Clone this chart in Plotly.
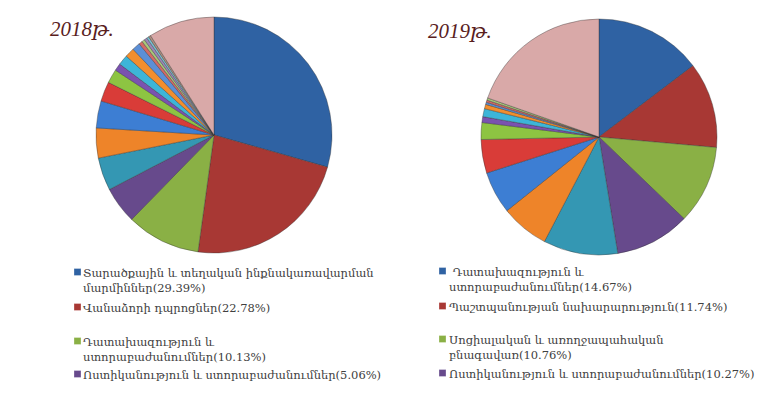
import plotly.graph_objects as go

# ---------------- data ----------------
labels_2018 = [
    "Տարածքային և տեղական ինքնակառավարման մարմիններ",
    "Վանաձորի դպրոցներ",
    "Դատախազություն և ստորաբաժանումներ",
    "Ոստիկանություն և ստորաբաժանումներ",
    "Այլ 5", "Այլ 6", "Այլ 7", "Այլ 8", "Այլ 9", "Այլ 10",
    "Այլ 11", "Այլ 12", "Այլ 13", "Այլ 14", "Այլ 15", "Այլ 16",
    "Այլ 17", "Այլ 18", "Այլ 19",
]
values_2018 = [29.39, 22.78, 10.13, 5.06, 4.5, 4.1, 3.7, 2.7, 1.9, 1.0,
               1.4, 1.3, 1.1, 0.5, 0.4, 0.4, 0.3, 0.3, 9.04]

labels_2019 = [
    "Դատախազություն և ստորաբաժանումներ",
    "Պաշտպանության նախարարություն",
    "Սոցիալական և առողջապահական բնագավառ",
    "Ոստիկանություն և ստորաբաժանումներ",
    "Այլ 5", "Այլ 6", "Այլ 7", "Այլ 8", "Այլ 9", "Այլ 10",
    "Այլ 11", "Այլ 12", "Այլ 13", "Այլ 14", "Այլ 15", "Այլ 16",
]
values_2019 = [14.67, 11.74, 10.76, 10.27, 10.2, 6.6, 5.8, 4.6, 2.3, 0.8,
               1.1, 0.6, 0.3, 0.3, 0.3, 19.63]

# legend text (line-broken like the original)
legend_2018 = [
    "Տարածքային և տեղական ինքնակառավարման<br>մարմիններ",
    "Վանաձորի դպրոցներ",
    "Դատախազություն և<br>ստորաբաժանումներ",
    "Ոստիկանություն և ստորաբաժանումներ",
]
legend_2019 = [
    " Դատախազություն և<br>ստորաբաժանումներ",
    "Պաշտպանության նախարարություն",
    "Սոցիալական և առողջապահական<br>բնագավառ",
    "Ոստիկանություն և ստորաբաժանումներ",
]

# ---------------- styles ----------------
base_cols = ["#2F62A3", "#A83834", "#8AB045", "#674A8C", "#3497B3", "#EE8429"]
second_cols = ["#3D7ED3", "#D93C38", "#8DC442", "#7A52B0", "#3DB5D8", "#F28E2E"]
tiny_cols = ["#5C8FD6", "#D36A66", "#A9C77A", "#9C87B8", "#79C0D2", "#B09080"]
pink = "#D9A9A8"

cols_2018 = base_cols + second_cols + tiny_cols + [pink]
cols_2019 = base_cols + second_cols + tiny_cols[:3] + [pink]

# page body has an 8px margin, so the figure is offset by 8px
OFF = 8
W, H = 772 - 2 * OFF, 398 - 2 * OFF


def px_x(x):
    return (x - OFF) / W


def px_y(y):
    return 1 - (y - OFF) / H


fig = go.Figure()
fig.add_trace(go.Pie(
    labels=labels_2018, values=values_2018, sort=False, direction="clockwise",
    rotation=0, textinfo="none", hoverinfo="label+percent",
    marker=dict(colors=cols_2018, line=dict(color="rgba(50,50,50,0.55)", width=0.7)),
    domain=dict(x=[px_x(96), px_x(332)], y=[px_y(253), px_y(17)]),
    showlegend=False,
))
fig.add_trace(go.Pie(
    labels=labels_2019, values=values_2019, sort=False, direction="clockwise",
    rotation=0, textinfo="none", hoverinfo="label+percent",
    marker=dict(colors=cols_2019, line=dict(color="rgba(50,50,50,0.55)", width=0.7)),
    domain=dict(x=[px_x(481), px_x(717)], y=[px_y(255), px_y(19)]),
    showlegend=False,
))

annotations = []
shapes = []
title_font = dict(family="Liberation Serif, DejaVu Serif, serif", size=21,
                  color="#5A1E1E", style="italic")
annotations.append(dict(text="2018թ.", x=px_x(48), y=px_y(29), xref="paper", yref="paper",
                        xanchor="left", yanchor="middle", showarrow=False, font=title_font))
annotations.append(dict(text="2019թ.", x=px_x(426), y=px_y(31), xref="paper", yref="paper",
                        xanchor="left", yanchor="middle", showarrow=False, font=title_font))

leg_font = dict(family="DejaVu Serif, serif", size=11.5, color="#404040")


def add_legend(names, vals, colors, mx, tx, ys):
    for name, v, c, y in zip(names, vals, colors, ys):
        annotations.append(dict(
            text=f"{name}({v:.2f}%)", x=px_x(tx), y=px_y(y - 8), xref="paper", yref="paper",
            xanchor="left", yanchor="top", align="left", showarrow=False, font=leg_font))
        shapes.append(dict(type="rect", xref="paper", yref="paper",
                           x0=px_x(mx), x1=px_x(mx + 7), y0=px_y(y + 3.5), y1=px_y(y - 3.5),
                           fillcolor=c, line=dict(color="rgba(255,255,255,0.6)", width=0.5)))


add_legend(legend_2018, values_2018[:4], base_cols[:4], 74, 81, [272, 307, 341, 374])
add_legend(legend_2019, values_2019[:4], base_cols[:4], 439, 447, [271, 306, 339, 373])

fig.update_layout(
    width=W, height=H, margin=dict(l=0, r=0, t=0, b=0),
    paper_bgcolor="white", plot_bgcolor="white",
    annotations=annotations, shapes=shapes,
)
fig.write_html("out.html")
